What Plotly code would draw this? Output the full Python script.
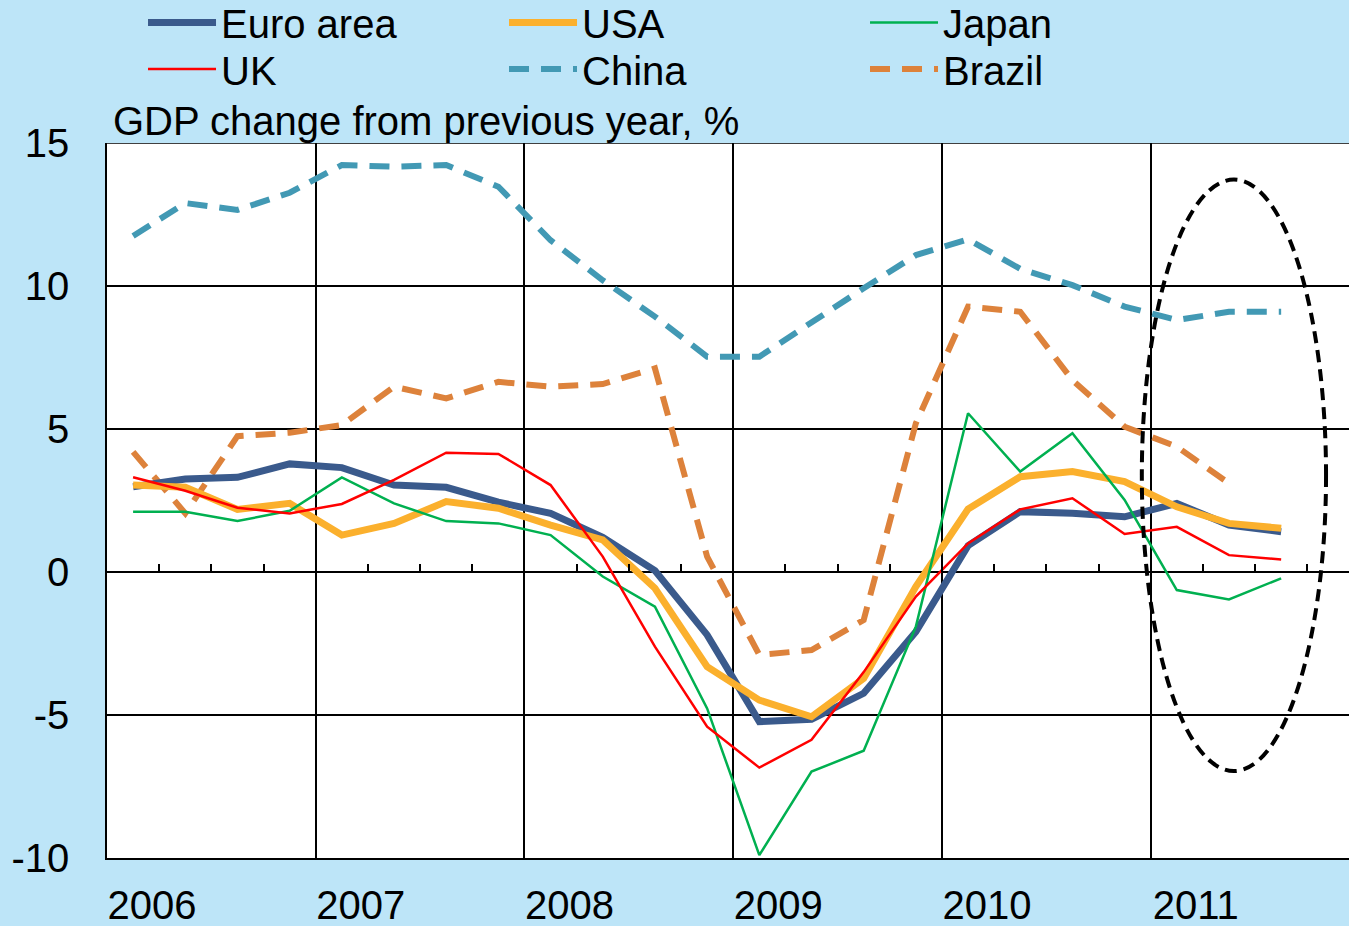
import plotly.graph_objects as go

quarters = list(range(23))  # 2006Q1 .. 2011Q3
years = ["2006", "2007", "2008", "2009", "2010", "2011"]
year_starts = [-0.5, 3.5, 7.5, 11.5, 15.5, 19.5]

euro = [2.98, 3.25, 3.31, 3.78, 3.65, 3.04, 2.96, 2.44, 2.05, 1.21, 0.05, -2.2,
        -5.23, -5.15, -4.24, -2.09, 0.92, 2.11, 2.05, 1.93, 2.4, 1.64, 1.41]
usa = [3.04, 2.96, 2.19, 2.4, 1.29, 1.7, 2.46, 2.23, 1.64, 1.12, -0.57, -3.31,
       -4.48, -5.06, -3.72, -0.51, 2.2, 3.33, 3.51, 3.16, 2.28, 1.7, 1.53]
japan = [2.11, 2.11, 1.78, 2.14, 3.31, 2.4, 1.78, 1.7, 1.29, -0.16, -1.21, -4.77,
         -9.9, -6.98, -6.25, -1.91, 5.55, 3.51, 4.85, 2.52, -0.63, -0.96, -0.22]
uk = [3.31, 2.84, 2.25, 2.05, 2.38, 3.22, 4.17, 4.13, 3.04, 0.54, -2.61, -5.41,
      -6.84, -5.87, -3.5, -0.86, 1.0, 2.19, 2.58, 1.33, 1.58, 0.59, 0.44]
china = [11.75, 12.9, 12.66, 13.26, 14.23, 14.17, 14.23, 13.47, 11.6, 10.2, 8.93, 7.53,
         7.53, 8.75, 9.92, 11.08, 11.63, 10.6, 10.03, 9.28, 8.81, 9.1, 9.1]
brazil = [4.2, 2.05, 4.75, 4.87, 5.14, 6.48, 6.07, 6.65, 6.48, 6.57, 7.12, 0.54,
          -2.9, -2.73, -1.68, 5.2, 9.28, 9.1, 6.71, 5.08, 4.38, 3.1]

y_ticks = [-10, -5, 0, 5, 10, 15]
y_tick_text = ["-10", "-5", "0", "5", "10", "15"]
quarter_bounds = [q + 0.5 for q in quarters]

FONT = "Liberation Sans, Arial, sans-serif"
FS = 40

fig = go.Figure()

series = [
    # name, values, color, width, dash, legendrank, legend row
    ("China", china, "#4299b4", 6, "20px,12px", 5, "legend2"),
    ("Brazil", brazil, "#dd823b", 6, "20px,12px", 6, "legend2"),
    ("Euro area", euro, "#3a5a8c", 7, "solid", 1, "legend"),
    ("USA", usa, "#fbb02d", 7, "solid", 2, "legend"),
    ("Japan", japan, "#00b050", 2.5, "solid", 3, "legend"),
    ("UK", uk, "#ff0000", 2.5, "solid", 4, "legend2"),
]
for name, vals, color, width, dash, rank, leg in series:
    fig.add_trace(go.Scatter(
        x=quarters[:len(vals)], y=vals, name=name, mode="lines",
        line=dict(color=color, width=width, dash=dash),
        legendrank=rank, legend=leg, hoverinfo="skip",
    ))

# invisible trace to activate the zero-line tick axis
fig.add_trace(go.Scatter(x=[quarters[0]], y=[0], xaxis="x2", mode="lines",
                         showlegend=False, hoverinfo="skip",
                         line=dict(color="rgba(0,0,0,0)")))

# dashed ellipse highlighting 2011
fig.add_shape(type="circle", xref="x", yref="y",
              x0=19.33, x1=22.86, y0=-6.96, y1=13.72,
              line=dict(color="black", width=4, dash="12px,7px"))

legend_common = dict(orientation="h", x=0.029, xanchor="left", yanchor="top",
                     entrywidth=278, entrywidthmode="pixels", itemwidth=68,
                     bgcolor="rgba(0,0,0,0)", font=dict(size=FS, family=FONT),
                     tracegroupgap=0, itemclick=False, itemdoubleclick=False)

xr = [-0.5, 23.3]
fig.update_layout(
    width=1349, height=926,
    margin=dict(l=107, r=0, t=143, b=68, autoexpand=False),
    paper_bgcolor="#bde5f8",
    plot_bgcolor="white",
    font=dict(family=FONT, size=FS, color="black"),
    showlegend=True,
    legend=dict(y=1.214, **legend_common),
    legend2=dict(y=1.149, **legend_common),
    xaxis=dict(range=xr, tickvals=year_starts, ticktext=years,
               showgrid=True, gridcolor="black", gridwidth=1.5,
               showline=True, linecolor="black", linewidth=1.5,
               ticks="", ticklabelshift=45, ticklabelstandoff=11,
               zeroline=False, tickfont=dict(size=FS)),
    xaxis2=dict(range=xr, overlaying="x", anchor="free", position=0.4,
                tickvals=quarter_bounds, ticks="inside", ticklen=8,
                tickcolor="black", tickwidth=1.5, showticklabels=False,
                showgrid=False, showline=False, zeroline=False),
    yaxis=dict(range=[-10, 15], tickvals=y_ticks, ticktext=y_tick_text,
               showgrid=True, gridcolor="black", gridwidth=1.5,
               showline=True, linecolor="black", linewidth=1.5, mirror=False,
               zeroline=False, ticks="", ticklabelstandoff=28,
               tickfont=dict(size=FS)),
    annotations=[dict(text="GDP change from previous year, %", xref="paper", yref="paper",
                      x=0.003, y=1.0, xanchor="left", yanchor="bottom", yshift=-2,
                      showarrow=False, font=dict(size=FS, family=FONT))],
)
# top border line
fig.add_shape(type="line", xref="paper", yref="y", x0=0, x1=1, y0=15, y1=15,
              line=dict(color="black", width=1.5))

fig.write_html("out.html", config={"displayModeBar": False},
               post_script="document.body.style.margin='0';")
